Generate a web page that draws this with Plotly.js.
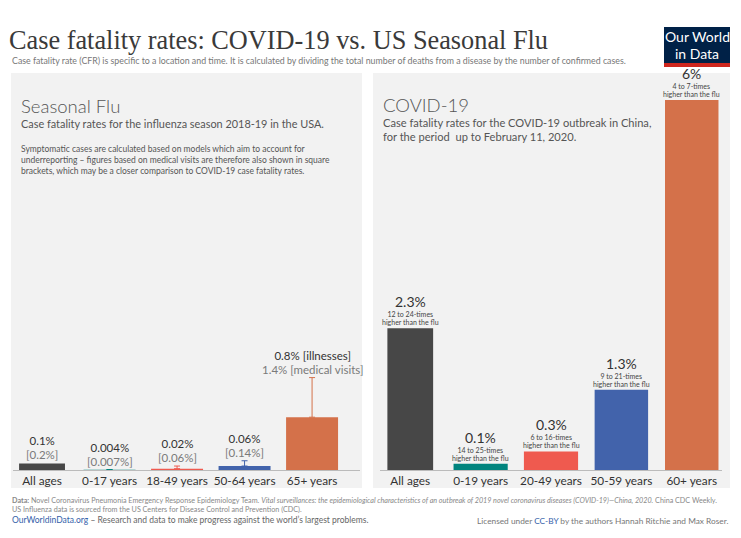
<!DOCTYPE html>
<html>
<head>
<meta charset="utf-8">
<script src="https://cdn.plot.ly/plotly-3.0.1.min.js"></script>
<style>html,body{margin:0;padding:0;background:#fff;}#chart{width:741px;height:538px;}</style>
</head>
<body>
<div id="chart"></div>
<script>
// ---- Data ----
var fluCategories = ["All ages", "0-17 years", "18-49 years", "50-64 years", "65+ years"];
var fluIllness = [0.1, 0.004, 0.02, 0.06, 0.8];          // CFR % based on illnesses
var fluMedical = [0.2, 0.007, 0.06, 0.14, 1.4];          // CFR % based on medical visits
var fluIllnessLabels = ["0.1%", "0.004%", "0.02%", "0.06%", "0.8% [illnesses]"];
var fluMedicalLabels = ["[0.2%]", "[0.007%]", "[0.06%]", "[0.14%]", "1.4% [medical visits]"];
var fluShowRange = [false, true, true, true, true];

var covidCategories = ["All ages", "0-19 years", "20-49 years", "50-59 years", "60+ years"];
var covidCFR = [2.3, 0.1, 0.3, 1.3, 6];
var covidLabels = ["2.3%", "0.1%", "0.3%", "1.3%", "6%"];
var covidCompare = ["12 to 24-times", "14 to 25-times", "6 to 16-times", "9 to 21-times", "4 to 7-times"];
var covidCompareTail = "higher than the flu";

// ---- Styles ----
var barColors = ["#474747", "#00847e", "#ef5a4f", "#4263ab", "#d4714a"];
var W = 741, H = 538;
function X(px){ return px / W; }
function Y(py){ return 1 - py / H; }
var FONT = "Lato, 'Open Sans', sans-serif";

var traces = [];
fluCategories.forEach(function(cat, i){
  var t = {
    type: "bar", x: [cat], y: [fluIllness[i]], xaxis: "x", yaxis: "y",
    width: [i === 0 ? 0.68 : 0.77],
    marker: {color: barColors[i]}, hoverinfo: "skip", showlegend: false
  };
  if (fluShowRange[i]) {
    t.error_y = {type: "data", symmetric: false, array: [fluMedical[i] - fluIllness[i]], arrayminus: [0],
      color: barColors[i], thickness: 1, width: 3};
  }
  traces.push(t);
});
traces.push({
  type: "bar", x: covidCategories, y: covidCFR, xaxis: "x2", yaxis: "y2",
  width: [0.65, 0.77, 0.77, 0.76, 0.76],
  marker: {color: barColors}, hoverinfo: "skip", showlegend: false
});

var annotations = [];
// flu bar labels (one box per bar, two lines)
fluCategories.forEach(function(cat, i){
  var top = fluShowRange[i] ? fluMedical[i] : fluIllness[i];
  annotations.push({xref: "x", yref: "y", x: cat, y: top, yanchor: "bottom", showarrow: false,
    text: "<span style='font-size:11.5px;color:#333'>" + fluIllnessLabels[i] + "</span><br>" +
          "<span style='font-size:11.5px;color:#7a7a7a'>" + fluMedicalLabels[i] + "</span>",
    font: {family: FONT, size: 10.5, color: "#333"}, yshift: 0});
});
// covid bar labels
covidCategories.forEach(function(cat, i){
  annotations.push({xref: "x2", yref: "y2", x: cat, y: covidCFR[i], yanchor: "bottom", showarrow: false,
    text: "<span style='font-size:7px;color:#444'>" + covidCompare[i] + "</span><br>" +
          "<span style='font-size:7px;color:#444'>" + covidCompareTail + "</span>",
    font: {family: FONT, size: 6.2, color: "#444"}, yshift: 0});
  annotations.push({xref: "x2", yref: "y2", x: cat, y: covidCFR[i], yanchor: "bottom", showarrow: false,
    text: covidLabels[i], font: {family: FONT, size: 14, color: "#333"}, yshift: 16});
});

function txt(text, x, y, size, color, opts){
  var a = {xref: "paper", yref: "paper", x: X(x), y: Y(y), xanchor: "left", yanchor: "middle",
    showarrow: false, text: text, align: "left", font: {family: FONT, size: size, color: color}};
  if (opts) for (var k in opts) a[k] = opts[k];
  annotations.push(a);
}
txt("Case fatality rates: COVID-19 vs. US Seasonal Flu", 7, 41, 26.3, "#333", {font: {family: "'Liberation Serif', serif", size: 26.3, color: "#3a3a3a"}});
txt("Case fatality rate (CFR) is specific to a location and time. It is calculated by dividing the total number of deaths from a disease by the number of confirmed cases.", 10, 61, 8.8, "#777");
txt("Our World", 697, 37, 14, "#fff", {xanchor: "center"});
txt("in Data", 697, 53, 14, "#fff", {xanchor: "center"});

txt("Seasonal Flu", 19, 106, 18.5, "#555", {font: {family: FONT, size: 18.5, color: "#555", weight: 300}});
txt("Case fatality rates for the influenza season 2018-19 in the USA.", 19, 123, 10.9, "#555");
txt("Symptomatic cases are calculated based on models which aim to account for<br>underreporting – figures based on medical visits are therefore also shown in square<br>brackets, which may be a closer comparison to COVID-19 case fatality rates.", 19, 160, 8.5, "#555");

txt("COVID-19", 381, 105, 18.5, "#555", {font: {family: FONT, size: 18.5, color: "#555", weight: 300}});
txt("Case fatality rates for the COVID-19 outbreak in China,<br>for the period  up to February 11, 2020.", 381, 129, 11.1, "#555");

txt("<b>Data:</b> Novel Coronavirus Pneumonia Emergency Response Epidemiology Team. <i>Vital surveillances: the epidemiological characteristics of an outbreak of 2019 novel coronavirus diseases (COVID-19)—China, 2020.</i> China CDC Weekly.", 10, 500, 7.2, "#888");
txt("US Influenza data is sourced from the US Centers for Disease Control and Prevention (CDC).", 10, 509.5, 7.2, "#888");
txt("<span style='color:#3360a9'>OurWorldinData.org</span> – Research and data to make progress against the world’s largest problems.", 10, 520, 8.5, "#666");
txt("Licensed under <span style='color:#3360a9'>CC-BY</span> by the authors Hannah Ritchie and Max Roser.", 730, 520.5, 8.3, "#777", {xanchor: "right"});

var shapes = [
  {type: "rect", xref: "paper", yref: "paper", x0: X(11), x1: X(362), y0: Y(488), y1: Y(73), fillcolor: "#f2f2f2", line: {width: 0}, layer: "below"},
  {type: "rect", xref: "paper", yref: "paper", x0: X(373), x1: X(730), y0: Y(488), y1: Y(73), fillcolor: "#f2f2f2", line: {width: 0}, layer: "below"},
  {type: "rect", xref: "paper", yref: "paper", x0: X(664), x1: X(730), y0: Y(63), y1: Y(27), fillcolor: "#002147", line: {width: 0}},
  {type: "rect", xref: "paper", yref: "paper", x0: X(664), x1: X(730), y0: Y(67), y1: Y(63), fillcolor: "#ce261e", line: {width: 0}}
];

var axX = {showgrid: false, zeroline: false, showline: true, linecolor: "#bbb", linewidth: 1, tickangle: 0,
  ticks: "", tickfont: {family: FONT, size: 11.8, color: "#333"}, fixedrange: true};
var layout = {
  width: W, height: H, margin: {l: 0, r: 0, t: 0, b: 0},
  paper_bgcolor: "#fff", plot_bgcolor: "rgba(0,0,0,0)",
  barmode: "overlay", showlegend: false,
  font: {family: FONT},
  xaxis: Object.assign({}, axX, {domain: [X(13), X(360)], range: [-0.43, 4.71], anchor: "y"}),
  xaxis2: Object.assign({}, axX, {domain: [X(380), X(722)], range: [-0.43, 4.43], anchor: "y2"}),
  yaxis: {domain: [Y(470), Y(100)], range: [0, 370 / 66], visible: false, fixedrange: true},
  yaxis2: {domain: [Y(470), Y(100)], range: [0, 6], visible: false, fixedrange: true},
  shapes: shapes, annotations: annotations
};
Plotly.newPlot("chart", traces, layout, {displayModeBar: false, staticPlot: true});
</script>
</body>
</html>
